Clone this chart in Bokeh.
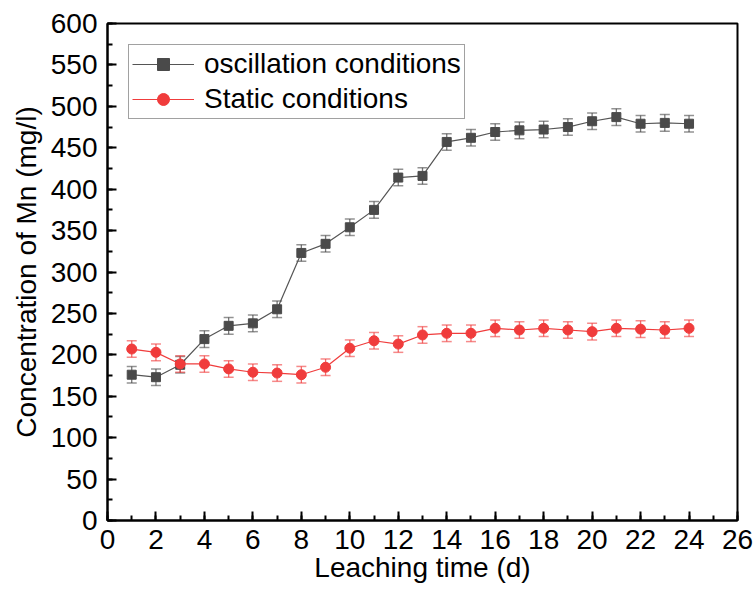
from bokeh.plotting import figure
from bokeh.models import (ColumnDataSource, Whisker, TeeHead, SingleIntervalTicker,
                          Legend, LegendItem)
from bokeh.embed import file_html
from bokeh.resources import INLINE

# Leaching time (days) and Mn concentration (mg/l) with standard deviations
days = [1, 2, 3, 4, 5, 6, 7, 8, 9, 10, 11, 12, 13, 14, 15, 16, 17, 18, 19, 20, 21, 22, 23, 24]
osc_mn = [176, 173, 188, 219, 235, 238, 255, 323, 334, 354, 375, 414, 416, 457,
          462, 469, 471, 472, 475, 482, 487, 479, 480, 479]
osc_err = [10, 10, 10, 10, 10, 10, 10, 10, 10, 10, 10, 10, 10, 10,
           10, 10, 10, 10, 10, 10, 10, 10, 10, 10]
static_mn = [207, 203, 189, 189, 183, 179, 178, 176, 185, 208, 217, 213, 224, 226,
             226, 232, 230, 232, 230, 228, 232, 231, 230, 232]
static_err = [10, 10, 10, 10, 10, 10, 10, 10, 10, 10, 10, 10, 10, 10,
              10, 10, 10, 10, 10, 10, 10, 10, 10, 10]

labels = ["oscillation conditions", "Static conditions"]

GREY = "#4a4a4a"
RED = "#f03c3c"
FONT = "Liberation Sans"

src_osc = ColumnDataSource(dict(
    x=days, y=osc_mn,
    lo=[v - e for v, e in zip(osc_mn, osc_err)],
    hi=[v + e for v, e in zip(osc_mn, osc_err)]))
src_sta = ColumnDataSource(dict(
    x=days, y=static_mn,
    lo=[v - e for v, e in zip(static_mn, static_err)],
    hi=[v + e for v, e in zip(static_mn, static_err)]))

p = figure(width=754, height=593, x_range=(0, 26), y_range=(0, 600),
           output_backend="svg", toolbar_location=None,
           min_border_left=107, min_border_right=17,
           min_border_top=23, min_border_bottom=73)
p.grid.visible = False
p.outline_line_color = "black"
p.outline_line_width = 2

# error bars
for src, col in ((src_osc, GREY), (src_sta, RED)):
    w = Whisker(source=src, base="x", lower="lo", upper="hi",
                line_color=col, line_alpha=0.75, line_width=1.3,
                upper_head=TeeHead(size=10, line_color=col, line_alpha=0.6, line_width=1.5),
                lower_head=TeeHead(size=10, line_color=col, line_alpha=0.6, line_width=1.5))
    p.add_layout(w)

l1 = p.line("x", "y", source=src_osc, line_color="#555555", line_width=1.2)
m1 = p.scatter("x", "y", source=src_osc, marker="square", size=9,
               fill_color=GREY, line_color=GREY)
l2 = p.line("x", "y", source=src_sta, line_color=RED, line_width=1.2)
m2 = p.scatter("x", "y", source=src_sta, marker="circle", size=10,
               fill_color=RED, line_color=RED)

# axes
p.xaxis.ticker = SingleIntervalTicker(interval=2, num_minor_ticks=2)
p.yaxis.ticker = SingleIntervalTicker(interval=50, num_minor_ticks=2)
for ax in (p.xaxis[0], p.yaxis[0]):
    ax.axis_line_width = 2
    ax.major_tick_line_width = 2
    ax.minor_tick_line_width = 2
    ax.major_tick_in = 9
    ax.major_tick_out = 0
    ax.minor_tick_in = 5
    ax.minor_tick_out = 0
    ax.major_label_text_font = FONT
    ax.major_label_text_font_size = "28px"
    ax.major_label_text_color = "black"
    ax.axis_label_text_font = FONT
    ax.axis_label_text_font_size = "28px"
    ax.axis_label_text_font_style = "normal"
    ax.axis_label_text_color = "black"
p.xaxis.axis_label = "Leaching time (d)"
p.yaxis.axis_label = "Concentration of Mn (mg/l)"
p.xaxis.major_label_standoff = 9
p.yaxis.major_label_standoff = 10
p.xaxis.axis_label_standoff = 0
p.yaxis.axis_label_standoff = 6

legend = Legend(items=[LegendItem(label=labels[0], renderers=[l1, m1]),
                       LegendItem(label=labels[1], renderers=[l2, m2])],
                location=(21, 401), orientation="vertical",
                label_text_font=FONT, label_text_font_size="28px",
                label_text_color="black",
                glyph_width=62, glyph_height=30, label_height=30,
                label_standoff=10, spacing=3, padding=3, margin=0,
                border_line_color="#444444", border_line_width=1.5,
                background_fill_alpha=1)
p.add_layout(legend)

open("out.html", "w").write(file_html(p, INLINE))
